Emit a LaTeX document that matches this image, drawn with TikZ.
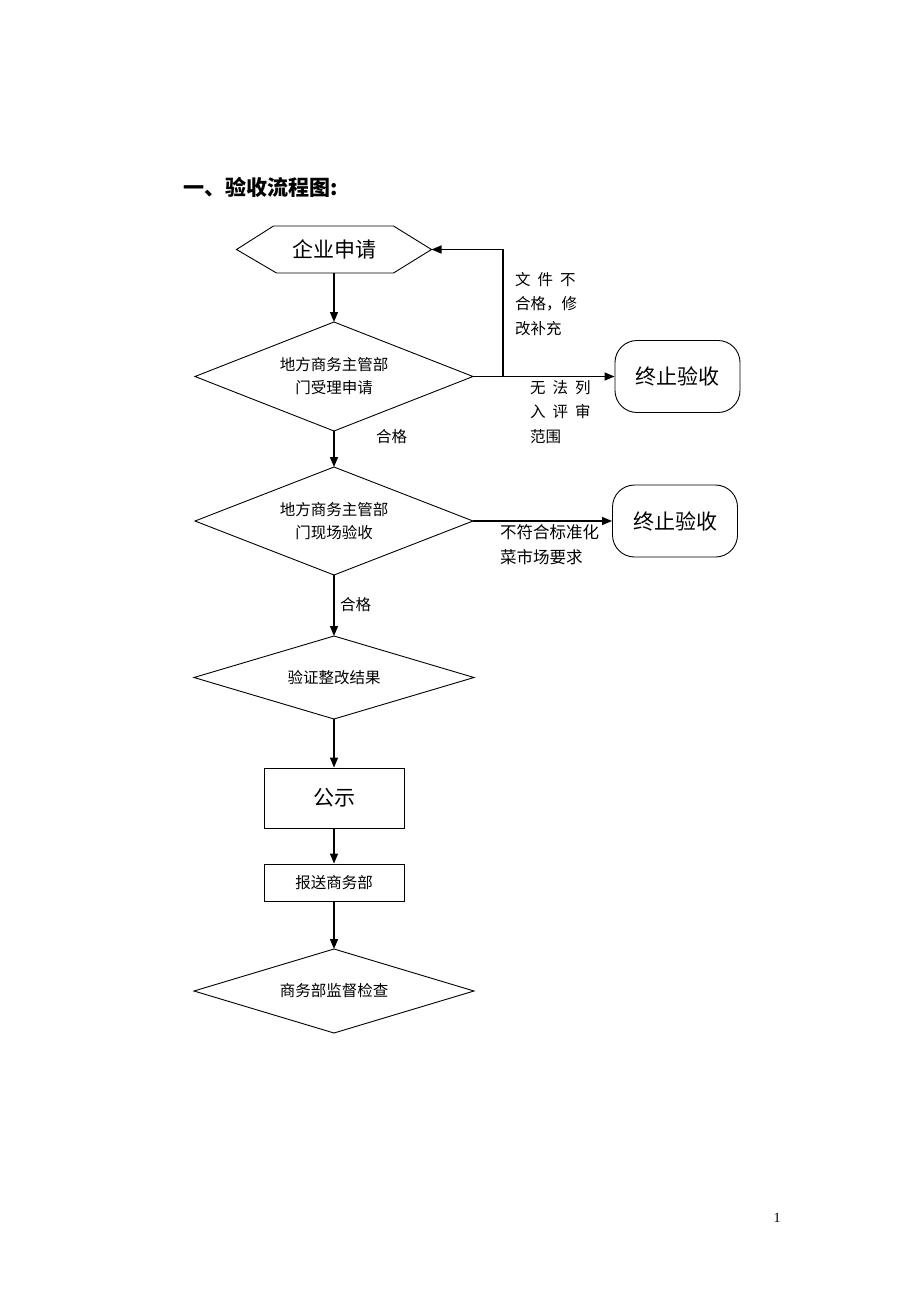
\documentclass[tikz,border=0pt]{standalone}
\usepackage{fontspec}
\setmainfont{Liberation Serif}
\newfontfamily\cjk{Noto Sans CJK SC}
\usetikzlibrary{arrows.meta}
\newcommand{\gp}{\hspace{0.45em}}
\begin{document}
\begin{tikzpicture}[x=1pt,y=-1pt,
  flow/.style={line width=1.4pt, -{Triangle[length=10pt,width=8pt]}},
  shp/.style={line width=0.9pt, line join=miter},
  dec/.style={rectangle, minimum width=278pt, minimum height=108pt, inner sep=0pt, outer sep=0pt, align=center, font=\cjk\fontsize{15.5}{23}\selectfont},
  boxs/.style={rectangle, draw, line width=0.9pt, minimum width=140pt, inner sep=0pt},
  stopbox/.style={rectangle, draw, line width=0.9pt, rounded corners=22pt, minimum width=125pt, minimum height=72pt, font=\cjk\fontsize{21}{24}\selectfont},
  lbl/.style={anchor=west, align=left, inner sep=0pt, font=\cjk\fontsize{15.5}{24.5}\selectfont}]
\path[use as bounding box] (0,0) rectangle (920,1302);
\fill[white] (0,0) rectangle (920,1302);

% title
\node[anchor=west, inner sep=0pt, font=\cjk\bfseries\fontsize{21}{24}\selectfont] (title) at (183,187) {一、验收流程图:};

% start hexagon
\node[rectangle, minimum width=195pt, minimum height=47pt, inner sep=0pt, outer sep=0pt, font=\cjk\fontsize{21}{24}\selectfont] (start) at (334,249.5) {企业申请};
\draw[shp] (start.west) -- ([xshift=37pt]start.north west) -- ([xshift=-38pt]start.north east) -- (start.east) -- ([xshift=-38pt]start.south east) -- ([xshift=40pt]start.south west) -- cycle;

% decisions
\node[dec, minimum height=109pt] (d1) at (334,376.5) {地方商务主管部\\门受理申请};
\node[dec] (d2) at (334,521) {地方商务主管部\\门现场验收};
\node[dec, minimum width=280pt, minimum height=83pt] (d3) at (334,677.5) {验证整改结果};
\node[dec, minimum width=280pt, minimum height=84pt] (d4) at (334,991) {商务部监督检查};
\foreach \d in {d1,d2,d3,d4}
  \draw[shp] (\d.north) -- (\d.east) -- (\d.south) -- (\d.west) -- cycle;

% boxes
\node[boxs, minimum height=60pt, font=\cjk\fontsize{21}{24}\selectfont] (pub) at (334,798) {公示};
\node[boxs, minimum height=37pt, font=\cjk\fontsize{15.5}{20}\selectfont] (rep) at (334,882.5) {报送商务部};

% stop boxes
\node[stopbox] (stop1) at (677.5,376.5) {终止验收};
\node[stopbox] (stop2) at (675,521) {终止验收};

% connectors
\draw[flow] (start.south) -- (d1.north);
\draw[flow] (d1.south) -- (d2.north);
\draw[flow] (d2.south) -- (d3.north);
\draw[flow] (d3.south) -- (pub.north);
\draw[flow] (pub.south) -- (rep.north);
\draw[flow] (rep.south) -- (d4.north);
\draw[flow] (d1.east) -- (stop1.west);
\draw[flow] (d2.east) -- (stop2.west);
\coordinate (fb) at (503,376.5);
\draw[flow] (d1.east) -- (fb) |- (start.east);

% labels
\node[lbl] (l1) at (515,304) {文\gp 件\gp 不\\合格，修\\改补充};
\node[lbl] (l2) at (530,412) {无\gp 法\gp 列\\入\gp 评\gp 审\\范围};
\node[lbl] (l3) at (376,437) {合格};
\node[lbl, font=\cjk\fontsize{16.5}{25}\selectfont] (l4) at (500,544.5) {不符合标准化\\菜市场要求};
\node[lbl] (l5) at (340,605) {合格};

% page number
\node[inner sep=0pt, font=\fontsize{14}{16}\selectfont] (pg) at (777,1218) {1};
\end{tikzpicture}
\end{document}
